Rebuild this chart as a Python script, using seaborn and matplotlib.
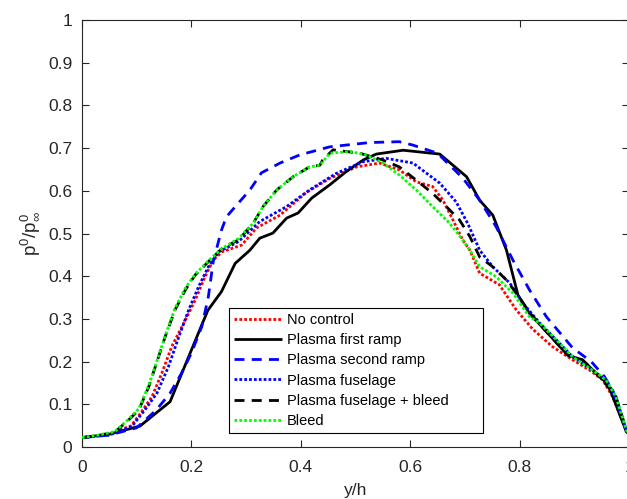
import numpy as np
import pandas as pd
import matplotlib
matplotlib.use("Agg")
import matplotlib.pyplot as plt
import seaborn as sns

# ---- data ----
labels = ["No control", "Plasma first ramp", "Plasma second ramp",
          "Plasma fuselage", "Plasma fuselage + bleed", "Bleed"]

x_noctrl = [0, 0.05, 0.09, 0.107, 0.128, 0.146, 0.164, 0.186, 0.207, 0.225, 0.24, 0.256, 0.292, 0.319,
            0.362, 0.41, 0.453, 0.502, 0.544, 0.58, 0.611, 0.641, 0.66, 0.678, 0.696, 0.709, 0.727,
            0.763, 0.794, 0.824, 0.86, 0.897, 0.928, 0.952, 0.97, 0.995, 1.0]
y_noctrl = [0.022, 0.03, 0.05, 0.079, 0.118, 0.173, 0.235, 0.29, 0.344, 0.399, 0.438, 0.457, 0.473, 0.513,
            0.543, 0.596, 0.629, 0.656, 0.665, 0.649, 0.621, 0.61, 0.578, 0.532, 0.485, 0.461, 0.407,
            0.38, 0.321, 0.276, 0.235, 0.204, 0.18, 0.157, 0.118, 0.04, 0.03]

x_ramp1 = [0, 0.05, 0.106, 0.161, 0.2, 0.23, 0.255, 0.28, 0.307, 0.325, 0.349, 0.374, 0.395, 0.42, 0.453,
           0.483, 0.514, 0.538, 0.587, 0.654, 0.703, 0.727, 0.751, 0.776, 0.797, 0.818, 0.849, 0.888,
           0.915, 0.949, 0.961, 0.995, 1.0]
y_ramp1 = [0.022, 0.03, 0.049, 0.106, 0.227, 0.32, 0.364, 0.43, 0.461, 0.489, 0.501, 0.536, 0.548, 0.583,
           0.614, 0.645, 0.672, 0.686, 0.695, 0.686, 0.633, 0.578, 0.543, 0.461, 0.356, 0.313, 0.27,
           0.215, 0.204, 0.161, 0.149, 0.036, 0.03]

x_ramp2 = [0, 0.05, 0.1, 0.136, 0.161, 0.182, 0.2, 0.219, 0.231, 0.24, 0.255, 0.264, 0.283, 0.307, 0.328,
           0.362, 0.398, 0.453, 0.526, 0.58, 0.605, 0.65, 0.696, 0.727, 0.757, 0.788, 0.818, 0.849,
           0.897, 0.931, 0.955, 0.97, 0.995, 1.0]
y_ramp2 = [0.022, 0.028, 0.045, 0.087, 0.126, 0.173, 0.22, 0.282, 0.352, 0.435, 0.508, 0.539, 0.567, 0.602,
           0.642, 0.665, 0.684, 0.703, 0.713, 0.715, 0.707, 0.688, 0.63, 0.578, 0.516, 0.437, 0.368,
           0.305, 0.232, 0.2, 0.165, 0.133, 0.04, 0.03]

x_fus = [0, 0.05, 0.091, 0.115, 0.137, 0.158, 0.177, 0.195, 0.213, 0.231, 0.25, 0.286, 0.325, 0.374,
         0.416, 0.465, 0.514, 0.556, 0.605, 0.654, 0.684, 0.705, 0.727, 0.751, 0.782, 0.806, 0.837,
         0.867, 0.897, 0.933, 0.958, 0.976, 0.995, 1.0]
y_fus = [0.022, 0.028, 0.048, 0.087, 0.126, 0.188, 0.258, 0.321, 0.375, 0.422, 0.457, 0.481, 0.528, 0.563,
         0.602, 0.641, 0.668, 0.676, 0.665, 0.618, 0.574, 0.524, 0.461, 0.422, 0.384, 0.337, 0.29,
         0.251, 0.211, 0.18, 0.157, 0.118, 0.04, 0.03]

x_fusbleed = [0, 0.03, 0.06, 0.085, 0.104, 0.122, 0.134, 0.152, 0.17, 0.189, 0.207, 0.231, 0.256, 0.286,
              0.313, 0.331, 0.356, 0.386, 0.416, 0.435, 0.44, 0.459, 0.508, 0.55, 0.58, 0.611, 0.641,
              0.666, 0.69, 0.709, 0.727, 0.751, 0.776, 0.794, 0.818, 0.849, 0.888, 0.915, 0.949, 0.976,
              0.995, 1.0]
y_fusbleed = [0.022, 0.027, 0.035, 0.063, 0.087, 0.141, 0.188, 0.258, 0.321, 0.368, 0.403, 0.434, 0.465,
              0.485, 0.524, 0.563, 0.602, 0.633, 0.656, 0.66, 0.672, 0.696, 0.688, 0.672, 0.656, 0.625,
              0.594, 0.563, 0.532, 0.493, 0.445, 0.422, 0.391, 0.36, 0.315, 0.27, 0.215, 0.204, 0.161,
              0.118, 0.04, 0.03]

x_bleed = [0, 0.03, 0.06, 0.085, 0.104, 0.122, 0.134, 0.152, 0.17, 0.189, 0.207, 0.231, 0.256, 0.286,
           0.313, 0.331, 0.356, 0.386, 0.416, 0.435, 0.453, 0.49, 0.52, 0.55, 0.58, 0.611, 0.641, 0.672,
           0.696, 0.709, 0.727, 0.757, 0.788, 0.818, 0.837, 0.867, 0.897, 0.933, 0.958, 0.976, 0.995, 1.0]
y_bleed = [0.022, 0.028, 0.036, 0.065, 0.09, 0.145, 0.19, 0.26, 0.325, 0.372, 0.405, 0.436, 0.465, 0.488,
           0.524, 0.563, 0.602, 0.633, 0.656, 0.66, 0.688, 0.692, 0.684, 0.665, 0.637, 0.602, 0.563,
           0.524, 0.485, 0.461, 0.422, 0.399, 0.36, 0.305, 0.29, 0.251, 0.211, 0.18, 0.157, 0.118,
           0.04, 0.03]

x_ticks = [0, 0.2, 0.4, 0.6, 0.8, 1]
y_ticks = [0, 0.1, 0.2, 0.3, 0.4, 0.5, 0.6, 0.7, 0.8, 0.9, 1]
x_ticklabels = ["0", "0.2", "0.4", "0.6", "0.8", "1"]
y_ticklabels = ["0", "0.1", "0.2", "0.3", "0.4", "0.5", "0.6", "0.7", "0.8", "0.9", "1"]

series = [(x_noctrl, y_noctrl), (x_ramp1, y_ramp1), (x_ramp2, y_ramp2),
          (x_fus, y_fus), (x_fusbleed, y_fusbleed), (x_bleed, y_bleed)]

# ---- styles ----
colors = ["#ff0000", "#000000", "#0000ff", "#0000ff", "#000000", "#00ff00"]
dot = (1.0, 0.75)
dash = (3.6, 2.6)
dashes = [dot, None, dash, dot, dash, dot]
zorders = [2, 3, 4, 5, 6, 7]

sns.set_style("ticks")
plt.rcParams["font.family"] = ["Liberation Sans", "DejaVu Sans"]
plt.rcParams["mathtext.fontset"] = "custom"
plt.rcParams["mathtext.rm"] = "Liberation Sans"
plt.rcParams["mathtext.it"] = "Liberation Sans"

fig = plt.figure(figsize=(6.27, 4.99), dpi=100)
ax = fig.add_axes([82 / 627, 1 - 447 / 499, 547 / 627, 427 / 499])

frames = []
for lab, (xs, ys) in zip(labels, series):
    frames.append(pd.DataFrame({"x": xs, "y": ys, "series": lab}))
df = pd.concat(frames, ignore_index=True)

for i, lab in enumerate(labels):
    sub = df[df["series"] == lab]
    kw = dict(color=colors[i], linewidth=2.0, zorder=zorders[i])
    sns.lineplot(data=sub, x="x", y="y", ax=ax, sort=False, estimator=None,
                 label=lab, **kw)
    l = ax.get_lines()[-1]
    if dashes[i] is not None:
        l.set_dashes(dashes[i])
    l.set_solid_capstyle("butt")
    l.set_dash_capstyle("butt")

ax.set_xlim(0, 1)
ax.set_ylim(0, 1)
ax.set_xticks(x_ticks)
ax.set_xticklabels(x_ticklabels)
ax.set_yticks(y_ticks)
ax.set_yticklabels(y_ticklabels)

axcol = "#262626"
ax.tick_params(direction="in", length=5, width=0.8, top=True, right=True,
               labelsize=12.5, colors=axcol)
ax.tick_params(axis="x", pad=9)
ax.tick_params(axis="y", pad=7)
for s in ax.spines.values():
    s.set_visible(True)
    s.set_color(axcol)
    s.set_linewidth(0.8)

ax.set_xlabel("y/h", fontsize=12.5, color=axcol, labelpad=6)
ax.set_ylabel(r"$\mathregular{p^0/p^0_\infty}$", fontsize=13.5, color=axcol, labelpad=4)

leg_w = (483 - 229) / 547
leg_h = (433 - 312) / 427
leg = ax.legend(loc="lower left", bbox_to_anchor=(0.269, 0.033, leg_w, leg_h), mode="expand",
                borderaxespad=0, fontsize=10.5, handlelength=3.3, handletextpad=0.3,
                labelspacing=0.42, borderpad=0.35, fancybox=False, framealpha=1,
                edgecolor="#000000")
leg.get_frame().set_linewidth(0.8)
for t in leg.get_texts():
    t.set_color("#000000")

fig.savefig("out.png", dpi=100)
